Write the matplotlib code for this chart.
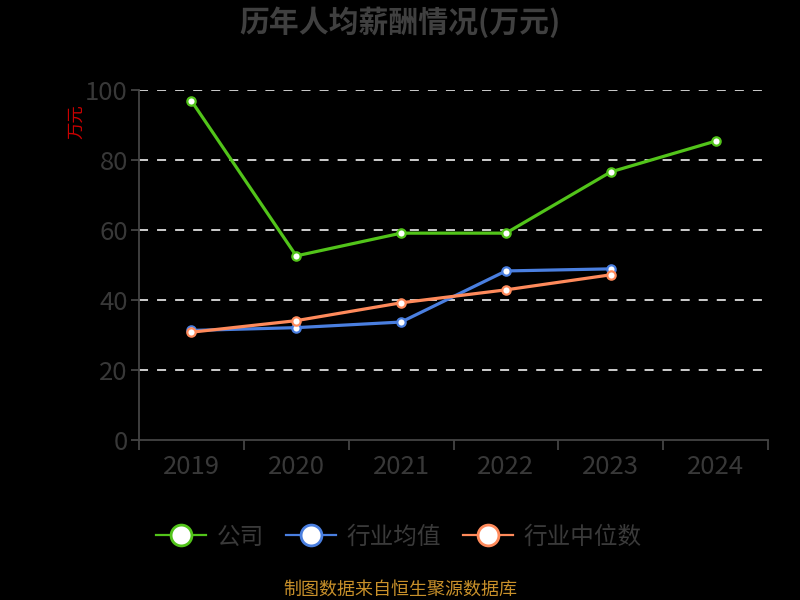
import matplotlib
matplotlib.use("Agg")
import matplotlib.pyplot as plt
from matplotlib.lines import Line2D
import numpy as np

plt.rcParams['font.family'] = ['Noto Sans CJK SC', 'DejaVu Sans']

years = ['2019', '2020', '2021', '2022', '2023', '2024']
company = [96.9, 52.6, 59.1, 59.1, 76.6, 85.4]
industry_avg = [31.3, 32.1, 33.7, 48.3, 48.9]
industry_median = [30.8, 34.1, 39.2, 42.9, 47.2]
series_names = ['公司', '行业均值', '行业中位数']
colors = ['#52c41a', '#4a7fe0', '#ff8a5b']

fig = plt.figure(figsize=(8, 6), dpi=100, facecolor='black')
ax = fig.add_axes([139/800, 1-440/600, 629/800, 350/600], facecolor='black')

x = np.arange(len(years))
for vals, c in zip([company, industry_avg, industry_median], colors):
    ax.plot(x[:len(vals)], vals, color=c, lw=2.3, marker='o', markersize=6,
            markerfacecolor='white', markeredgecolor=c, markeredgewidth=1.6, zorder=3)

ax.set_xlim(-0.5, len(years) - 0.5)
ax.set_ylim(0, 100)
ax.set_yticks([0, 20, 40, 60, 80, 100])
ax.set_xticks(x)
ax.set_xticklabels(years)
ax.set_xticks(np.arange(-0.5, len(years)), minor=True)

for yv in [20, 40, 60, 80, 100]:
    ax.axhline(yv, color='#dddddd', lw=1.3, ls=(0, (5, 5)), zorder=1)

for s in ['top', 'right']:
    ax.spines[s].set_visible(False)
for s in ['left', 'bottom']:
    ax.spines[s].set_color('#444444')
    ax.spines[s].set_linewidth(1.3)

ax.tick_params(axis='x', which='major', length=0, pad=10, labelsize=18.5, labelcolor='#383838')
ax.tick_params(axis='x', which='minor', length=7, width=1.3, color='#444444')
ax.tick_params(axis='y', which='major', length=6, width=1.3, color='#444444',
               labelsize=18.5, labelcolor='#383838', pad=2)

fig.text(0.5, 1-22/600, '历年人均薪酬情况(万元)', ha='center', va='center',
         fontsize=21.5, fontweight='bold', color='#404040')
fig.text(76/800, 1-122/600, '万元', ha='center', va='center', rotation=90,
         fontsize=12.5, color='#cc0000')

handles = [Line2D([0], [0], color=c, lw=1.6, marker='o', markersize=15,
                  markerfacecolor='white', markeredgecolor=c, markeredgewidth=2)
           for c in colors]
leg = fig.legend(handles, series_names, loc='center', bbox_to_anchor=(399/800, 1-537/600),
                 ncol=3, frameon=False, fontsize=17, handlelength=2.1,
                 handletextpad=0.45, columnspacing=0.95)
for t in leg.get_texts():
    t.set_color('#3a3a3a')

fig.text(0.5, 1-590/600, '制图数据来自恒生聚源数据库', ha='center', va='center',
         fontsize=13, color='#c8902a')

fig.savefig('out.png', dpi=100, facecolor='black')
